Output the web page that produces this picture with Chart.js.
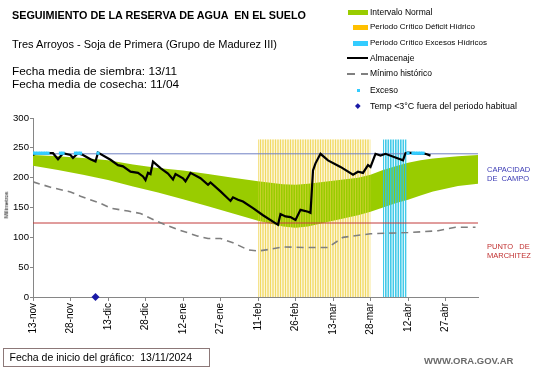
<!DOCTYPE html>
<html><head><meta charset="utf-8">
<script src="https://cdn.jsdelivr.net/npm/chart.js@4.4.1/dist/chart.umd.min.js"></script>
<style>
html,body{margin:0;padding:0;background:#fff;}
#wrap{position:relative;width:541px;height:368px;overflow:hidden;font-family:"Liberation Sans",Arial,sans-serif;color:#000;}
canvas{position:absolute;left:0;top:0;}
.t{position:absolute;white-space:pre;line-height:1;}
.lg{position:absolute;white-space:pre;line-height:1;font-size:8.5px;left:370px;}
.sw{position:absolute;}
</style></head><body>
<div id="wrap">
<canvas id="c" width="541" height="368"></canvas>
<div class="t" style="left:12px;top:10.3px;font-size:10.8px;font-weight:bold;">SEGUIMIENTO DE LA RESERVA DE AGUA  EN EL SUELO</div>
<div class="t" style="left:12px;top:39px;font-size:11px;">Tres Arroyos - Soja de Primera (Grupo de Madurez III)</div>
<div class="t" style="left:12px;top:66px;font-size:11.8px;">Fecha media de siembra: 13/11</div>
<div class="t" style="left:12px;top:78.5px;font-size:11.8px;">Fecha media de cosecha: 11/04</div>

<div class="sw" style="left:348px;top:9.5px;width:20px;height:5px;background:#99cc00;"></div>
<div class="lg" style="top:7.5px;">Intervalo Normal</div>
<div class="sw" style="left:353px;top:24.5px;width:15px;height:5px;background:#ffc000;"></div>
<div class="lg" style="top:22.8px;font-size:8px;">Periodo Crítico Déficit Hídrico</div>
<div class="sw" style="left:353px;top:40.5px;width:15px;height:5px;background:#33ccff;"></div>
<div class="lg" style="top:38.8px;font-size:8px;">Periodo Crítico Excesos Hídricos</div>
<div class="sw" style="left:347px;top:57.3px;width:21px;height:2px;background:#000;"></div>
<div class="lg" style="top:54px;">Almacenaje</div>
<div class="sw" style="left:347px;top:72.5px;width:8px;height:2px;background:#808080;"></div>
<div class="sw" style="left:361px;top:72.5px;width:7px;height:2px;background:#808080;"></div>
<div class="lg" style="top:69px;">Mínimo histórico</div>
<div class="sw" style="left:357px;top:88.5px;width:3px;height:3px;background:#33ccff;"></div>
<div class="lg" style="top:85.8px;">Exceso</div>
<div class="sw" style="left:356px;top:104px;width:3.6px;height:3.6px;background:#1a1aa6;transform:rotate(45deg);"></div>
<div class="lg" style="top:101.6px;font-size:8.9px;">Temp &lt;3°C fuera del periodo habitual</div>

<div class="t" style="left:6.5px;top:204.5px;font-size:5.8px;transform:translate(-50%,-50%) rotate(-90deg);transform-origin:50% 50%;">Milímetros</div>

<div class="t" style="left:487px;top:166.3px;font-size:7.5px;color:#3a3ab4;">CAPACIDAD</div>
<div class="t" style="left:487px;top:175.3px;font-size:7.5px;color:#3a3ab4;">DE  CAMPO</div>
<div class="t" style="left:487px;top:243px;font-size:7.5px;color:#c03030;">PUNTO   DE</div>
<div class="t" style="left:487px;top:252px;font-size:7.5px;color:#c03030;">MARCHITEZ</div>

<div style="position:absolute;left:3px;top:348px;width:205px;height:17px;border:1px solid #8c7878;"></div>
<div class="t" style="left:9.5px;top:352px;font-size:10.5px;">Fecha de inicio del gráfico:  13/11/2024</div>
<div class="t" style="left:424px;top:356.3px;font-size:9.5px;font-weight:bold;color:#6a6a6a;">WWW.ORA.GOV.AR</div>
</div>
<script>
// ---- data (x = days since 13-nov-2024) ----
const tickLabels = ['13-nov','28-nov','13-dic','28-dic','12-ene','27-ene','11-feb','26-feb','13-mar','28-mar','12-abr','27-abr'];
const xMax = 178;

const almDays = [0,1,8,10,12,15,16,18,20,23,25,26,31,34,36,39,42,44,45,46,47,48,51,54,56,57,60,61,63,67,70,71,75,79,80,82,84,88,92,98,99,101,103,105,107,110,111,112,113,115,118,123,128,130,132,134,135,137,139,141,148,149,150,157,159];
const almVals = [238,241,241,231,241,238,233,241,238,231,227,242,230,221,219,210,208,202,196,208,206,227,216,207,197,206,199,194,208,199,188,192,177,161,167,163,160,149,137,121,139,135,134,129,146,143,141,212,224,240,229,218,205,210,208,221,218,240,237,240,229,241,242,240,237];

const minDays = [0,7,15,19,27,31,38,43,50,58,66,70,75,80,86,90,95,100,108,118,124,135,150,162,169,177];
const minVals = [193,184,176,169,157,149,144,140,126,113,102,98,98,91,79,77,80,84,83,83,100,106,108,111,117,117];

const bandDays  = [0,10,20,30,40,50,60,70,80,90,100,105,110,120,130,135,140,145,150,155,160,170,178];
const bandUpper = [238,236,233,229,222,216,212,206,200,194,189,188,190,195,200,205,213,219,225,229,232,236,238];
const bandLower = [220,213,205,196,185,175,164,152,140,128,118,116,118,128,137,143,150,157,163,170,177,186,190];

const excesoDays = [0,1,2,3,4,5,6,11,12,17,18,19,26,150,152,153,154,155,156];
const excesoVals = [241,241,241,241,241,241,241,241,241,241,241,241,241,241,241,241,241,241,241];

const tempDays = [25];
const tempVals = [0];

const deficitPeriod = [90,135];
const excesoPeriod = [140,149.5];
const periodTop = 264;
const capCampo = 240;
const puntoMarchitez = 124;

// ---- stripe patterns (style only) ----
function stripePattern(bg, line, w) {
  const p = document.createElement('canvas'); p.width = 5; p.height = 4;
  const g = p.getContext('2d');
  if (bg) { g.fillStyle = bg; g.fillRect(0,0,5,4); }
  g.fillStyle = line; g.fillRect(0,0,w,4); g.fillRect(2.5,0,w,4);
  return document.getElementById('c').getContext('2d').createPattern(p,'repeat');
}
const patDefBack  = stripePattern('rgb(252,245,212)', 'rgb(242,222,120)', 1);
const patDefFront = stripePattern(null, 'rgba(240,214,80,0.55)', 1);
const patExcFront = stripePattern(null, 'rgba(45,196,230,0.9)', 1.6);

// ---- build ----
const pts = (d,v) => d.map((x,i)=>({x:x,y:v[i]}));
const span = (p) => [{x:p[0],y:periodTop},{x:p[1],y:periodTop}];
const FONT = 'Liberation Sans';

new Chart(document.getElementById('c'), {
  type: 'line',
  data: { datasets: [
    { data: span(deficitPeriod), borderWidth:0, pointRadius:0, fill:'origin', backgroundColor:patDefBack, order:10 },
    { data: pts(bandDays,bandUpper), borderWidth:0, pointRadius:0, backgroundColor:'#99cc00', fill:'+1', order:9 },
    { data: pts(bandDays,bandLower), borderWidth:0, pointRadius:0, fill:false, order:9 },
    { data: span(deficitPeriod), borderWidth:0, pointRadius:0, fill:'origin', backgroundColor:patDefFront, order:8 },
    { data: span(excesoPeriod), borderWidth:0, pointRadius:0, fill:'origin', backgroundColor:patExcFront, order:8 },
    { data: [{x:0,y:capCampo},{x:xMax,y:capCampo}], borderColor:'#7080c4', borderWidth:1, pointRadius:0, fill:false, order:7 },
    { data: [{x:0,y:puntoMarchitez},{x:xMax,y:puntoMarchitez}], borderColor:'#c23a3a', borderWidth:1, pointRadius:0, fill:false, order:7 },
    { data: pts(minDays,minVals), borderColor:'#7f7f7f', borderWidth:1.6, borderDash:[7,5], pointRadius:0, fill:false, order:6 },
    { data: pts(almDays,almVals), borderColor:'#000', borderWidth:2.2, pointRadius:0, fill:false, order:5 },
    { data: pts(excesoDays,excesoVals), showLine:false, pointStyle:'rect', pointRadius:2.3, backgroundColor:'#33ccff', borderWidth:0, order:4 },
    { data: pts(tempDays,tempVals), showLine:false, pointStyle:'rectRot', pointRadius:4, backgroundColor:'#1a1aa6', borderColor:'#1a1aa6', borderWidth:0, clip:false, order:3 }
  ]},
  options: {
    responsive:false, animation:false, devicePixelRatio:1,
    layout:{ padding:{ left:0, top:118, right:63, bottom:0 } },
    plugins:{ legend:{display:false}, tooltip:{enabled:false}, title:{display:false}, filler:{ drawTime:'beforeDatasetDraw' } },
    scales:{
      x:{ type:'linear', min:0, max:xMax, offset:false,
          grid:{ display:true, drawOnChartArea:false, drawTicks:true, tickLength:4, color:'#868686' },
          border:{ display:true, color:'#868686', width:1 },
          ticks:{ stepSize:15, autoSkip:false, maxRotation:90, minRotation:90, includeBounds:false, padding:2, color:'#000',
                  font:{ family:FONT, size:10 },
                  callback:(v)=> (v%15===0 && tickLabels[v/15]) ? tickLabels[v/15] : '' },
          afterFit:(s)=>{ s.height = 71; } },
      y:{ min:0, max:300,
          grid:{ display:true, drawOnChartArea:false, drawTicks:true, tickLength:3, color:'#868686' },
          border:{ display:true, color:'#868686', width:1 },
          ticks:{ stepSize:50, padding:1, color:'#000', font:{ family:FONT, size:9.6 } },
          afterFit:(s)=>{ s.width = 33; } }
    }
  }
});
</script>
</body></html>
